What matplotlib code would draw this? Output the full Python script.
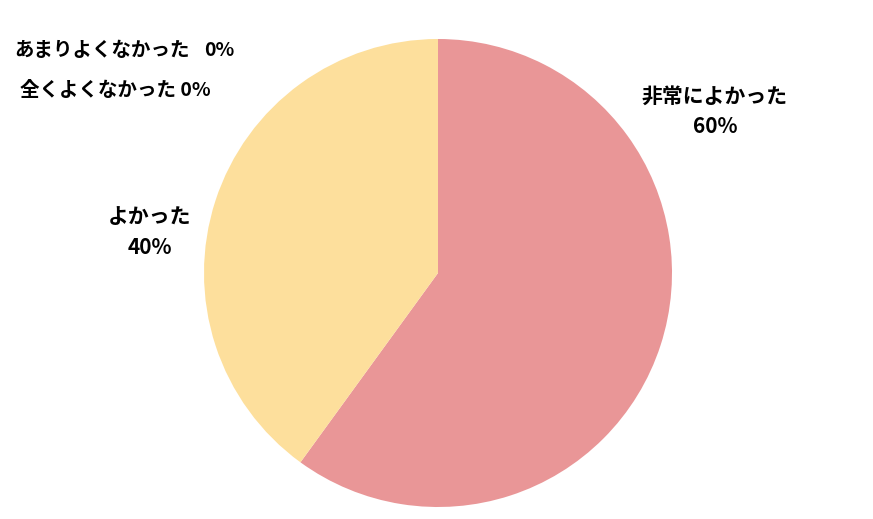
import matplotlib.pyplot as plt

plt.rcParams['font.family'] = ['Noto Sans CJK JP', 'DejaVu Sans']

# データ
labels = ['非常によかった', 'よかった', 'あまりよくなかった', '全くよくなかった']
values = [60, 40, 0, 0]
colors = ['#E99697', '#FDDF9C', '#A9C4E6', '#C9DFA8']

fig = plt.figure(figsize=(8.73, 5.19), dpi=100)
ax = fig.add_axes([0, 0, 1, 1])

# y軸を反転しているので startangle=-90 で上から時計回り
ax.pie(values, colors=colors, startangle=-90, counterclock=True,
       center=(438, 273), radius=234, frame=True,
       wedgeprops={'linewidth': 0})
ax.set_xlim(0, 873)
ax.set_ylim(519, 0)
ax.set_aspect('equal')
ax.axis('off')

# ラベル
fs = 15
ax.text(715, 111, f'{labels[0]}\n{values[0]}%', ha='center', va='center',
        fontsize=fs, fontweight='bold', linespacing=1.55)
ax.text(150, 232, f'{labels[1]}\n{values[1]}%', ha='center', va='center',
        fontsize=fs, fontweight='bold', linespacing=1.55)
ax.text(14, 50, labels[2], ha='left', va='center',
        fontsize=14, fontweight='bold')
ax.text(234, 50, f'{values[2]}%', ha='right', va='center',
        fontsize=14, fontweight='bold')
ax.text(20, 90, f'{labels[3]} {values[3]}%', ha='left', va='center',
        fontsize=14, fontweight='bold')

fig.savefig('out.png', dpi=100)
